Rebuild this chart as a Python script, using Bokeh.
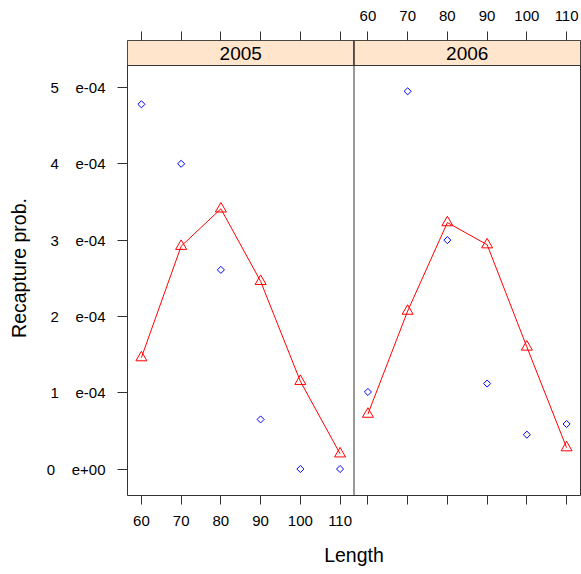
import math
from bokeh.plotting import figure
from bokeh.models import Range1d, FixedTicker, LinearAxis, Span, CustomJSTickFormatter
from bokeh.core.properties import value
from bokeh.embed import file_html
from bokeh.resources import INLINE

# ---- data ----
YEARS = ["2005", "2006"]
LENGTHS = [60, 70, 80, 90, 100, 110]
OBS_2005 = [4.78e-4, 4.00e-4, 2.61e-4, 0.65e-4, 0.0, 0.0]
FIT_2005 = [1.46e-4, 2.92e-4, 3.41e-4, 2.46e-4, 1.15e-4, 0.20e-4]
OBS_2006 = [1.01e-4, 4.95e-4, 3.00e-4, 1.12e-4, 0.45e-4, 0.59e-4]
FIT_2006 = [0.72e-4, 2.07e-4, 3.23e-4, 2.94e-4, 1.60e-4, 0.28e-4]
Y_TICKS = [0, 1e-4, 2e-4, 3e-4, 4e-4, 5e-4]
X_TICKS = [60, 70, 80, 90, 100, 110]

# ---- layout constants ----
FONT = "Liberation Sans"
INK = "#333333"
PANEL_SPAN = 57
X_LO = 56.5
Y_LO = -0.347e-4
Y_HI = 5.616e-4
STRIP_LO = 5.288e-4
FRAME_W = 453
FRAME_H = 455
LEFT = 127

offsets = [0, PANEL_SPAN]
x_hi = X_LO + 2 * PANEL_SPAN

p = figure(frame_width=FRAME_W, frame_height=FRAME_H,
           x_range=Range1d(X_LO, x_hi), y_range=Range1d(Y_LO, Y_HI),
           output_backend="svg", toolbar_location=None,
           min_border_left=LEFT, min_border_right=1,
           min_border_top=40, min_border_bottom=79,
           background_fill_color="white", border_fill_color="white")
p.grid.visible = False
p.outline_line_color = INK
p.outline_line_width = 1

# strips
strip_left = [X_LO + o for o in offsets]
strip_right = [X_LO + PANEL_SPAN + o for o in offsets]
p.quad(left=strip_left, right=strip_right, bottom=STRIP_LO, top=Y_HI,
       fill_color="#ffe5cc", line_color=INK, line_width=1)
p.text(x=[(l + r) / 2 for l, r in zip(strip_left, strip_right)],
       y=[(STRIP_LO + Y_HI) / 2] * 2, text=YEARS,
       text_align="center", text_baseline="middle",
       text_font=value(FONT), text_font_size="19px", text_color="black")

# panel divider
p.add_layout(Span(location=X_LO + PANEL_SPAN, dimension="height",
                  line_color=INK, line_width=1))

# data
for off, obs, fit in [(offsets[0], OBS_2005, FIT_2005), (offsets[1], OBS_2006, FIT_2006)]:
    xs = [x + off for x in LENGTHS]
    p.scatter(xs, obs, marker="square", angle=math.pi / 4, size=5,
              fill_color=None, line_color="#0000ff", line_width=1)
    p.line(xs, fit, line_color="#ff0000", line_width=1)
    p.scatter(xs, fit, marker="triangle", size=11,
              fill_color=None, line_color="#ff0000", line_width=1)

all_ticks = [t + o for o in offsets for t in X_TICKS]

# bottom axis
xb = p.xaxis[0]
xb.ticker = FixedTicker(ticks=all_ticks, minor_ticks=[])
xb.major_label_overrides = {t + PANEL_SPAN: "" for t in X_TICKS}
xb.axis_label = "Length"

# top axis
xt = LinearAxis(ticker=FixedTicker(ticks=all_ticks, minor_ticks=[]))
over = {t: "" for t in X_TICKS}
over.update({t + PANEL_SPAN: str(t) for t in X_TICKS})
xt.major_label_overrides = over
p.add_layout(xt, "above")

# y axis
ya = p.yaxis[0]
ya.ticker = FixedTicker(ticks=Y_TICKS, minor_ticks=[])
ya.formatter = CustomJSTickFormatter(code="""
const n = Math.round(tick * 1e4);
const sp = "\\u00a0\\u00a0\\u00a0\\u00a0";
return n == 0 ? "0" + sp + "e+00" : n + sp + "e-04";
""")
ya.axis_label = "Recapture prob."

for ax in (xb, xt, ya):
    ax.axis_line_color = None
    ax.major_tick_line_color = INK
    ax.major_tick_out = 9
    ax.major_tick_in = 0
    ax.minor_tick_line_color = None
    ax.major_label_text_font = FONT
    ax.major_label_text_font_size = "15px"
    ax.major_label_text_color = "black"
    ax.major_label_standoff = 11
    ax.axis_label_text_font = FONT
    ax.axis_label_text_font_size = "19.5px"
    ax.axis_label_text_font_style = "normal"
    ax.axis_label_text_color = "black"
    ax.axis_label_standoff = 15

ya.major_tick_out = 10
ya.major_label_standoff = 12
ya.axis_label_standoff = 14

open("out.html", "w").write(file_html(p, INLINE))
